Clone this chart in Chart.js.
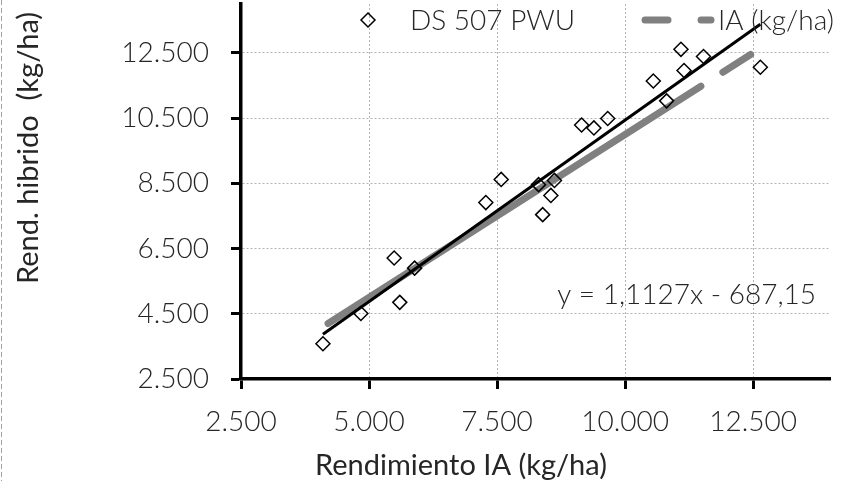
<!DOCTYPE html>
<html>
<head>
<meta charset="utf-8">
<script src="https://cdn.jsdelivr.net/npm/chart.js@4.4.0/dist/chart.umd.min.js"></script>
<style>
  html, body { margin: 0; padding: 0; background: #fff; }
  #wrap { width: 844px; height: 481px; position: relative; }
</style>
</head>
<body>
<div id="wrap"><canvas id="yieldChart"></canvas></div>
<script>
// Rendimiento IA (x) vs rendimiento del hibrido DS 507 PWU (y), kg/ha
const iaYield = [4100, 4840, 5490, 5600, 5890, 7280, 7580, 8390, 8310, 8550, 8620, 9150, 9390, 9660, 10550, 10810, 11090, 11150, 11530, 12640];
const hybridYield = [3580, 4510, 6210, 4850, 5900, 7910, 8620, 7540, 8460, 8130, 8590, 10290, 10200, 10490, 11640, 11030, 12610, 11960, 12390, 12060];
// IA reference line (y = x) endpoints
const iaLineX = [4200, 12450];
// linear trend shown on the chart
const trendSlope = 1.1127;
const trendIntercept = -687.15;
const trendLabel = 'y = 1,1127x - 687,15';
const xTicks = [2500, 5000, 7500, 10000, 12500];
const yTicks = [2500, 4500, 6500, 8500, 10500, 12500];
const seriesNames = ['DS 507 PWU', 'IA (kg/ha)'];
const xTitle = 'Rendimiento IA (kg/ha)';
const yTitle = 'Rend. hibrido  (kg/ha)';

const textColor = '#262626';
const labelFont = '300 28px Lato';
const titleFont = '29px Lato';

function fmt(v) {
  return String(v).replace(/\B(?=(\d{3})+(?!\d))/g, '.');
}

const points = iaYield.map((x, i) => ({ x: x, y: hybridYield[i] }));
const xMin = Math.min(...iaYield), xMax = Math.max(...iaYield);
const trendPoints = [xMin, xMax].map(x => ({ x: x, y: trendSlope * x + trendIntercept }));
const iaPoints = iaLineX.map(x => ({ x: x, y: x }));

// legend, axis titles, equation and frame drawn over the canvas
const decorations = {
  id: 'decorations',
  afterDraw(chart) {
    const ctx = chart.ctx;
    const h = chart.height;
    ctx.save();
    // dashed frame edge at the left
    ctx.strokeStyle = '#a0a0a0';
    ctx.lineWidth = 1;
    ctx.setLineDash([5, 3]);
    ctx.beginPath();
    ctx.moveTo(1.5, 0);
    ctx.lineTo(1.5, h);
    ctx.stroke();
    ctx.setLineDash([]);

    // legend
    const sc = chart.data.datasets[1];
    ctx.fillStyle = 'rgba(0,0,0,0)';
    ctx.strokeStyle = sc.borderColor;
    ctx.lineWidth = sc.borderWidth;
    Chart.helpers.drawPoint(ctx, {
      pointStyle: sc.pointStyle, radius: sc.pointRadius, rotation: 0,
      borderWidth: sc.borderWidth
    }, 368, 20);
    const ia = chart.data.datasets[2];
    ctx.strokeStyle = ia.borderColor;
    ctx.lineWidth = ia.borderWidth;
    ctx.lineCap = 'round';
    ctx.setLineDash([23, 33]);
    ctx.beginPath();
    ctx.moveTo(645, 20);
    ctx.lineTo(711, 20);
    ctx.stroke();
    ctx.setLineDash([]);

    ctx.fillStyle = textColor;
    ctx.font = labelFont;
    ctx.textBaseline = 'middle';
    ctx.textAlign = 'left';
    ctx.fillText(seriesNames[0], 410, 21);
    ctx.fillText(seriesNames[1], 718, 21);

    // trend equation
    ctx.textAlign = 'right';
    ctx.fillText(trendLabel, 816, 295);

    // axis titles
    ctx.font = titleFont;
    ctx.textAlign = 'center';
    ctx.fillText(xTitle, 461, 466);
    ctx.translate(29, 148);
    ctx.rotate(-Math.PI / 2);
    ctx.fillText(yTitle, 0, 0);
    ctx.restore();
  }
};

const gridOpts = {
  color: '#b4b4b4',
  lineWidth: 1,
  tickColor: '#000',
  tickWidth: 3,
  tickLength: 10,
  tickBorderDash: []
};
const borderOpts = { color: '#000', width: 3.5, dash: [2, 2] };

new Chart(document.getElementById('yieldChart'), {
  type: 'scatter',
  data: {
    datasets: [{
      label: 'trend',
      data: trendPoints,
      showLine: true,
      borderColor: '#000',
      borderWidth: 3,
      pointRadius: 0,
      order: 0
    }, {
      label: seriesNames[0],
      data: points,
      pointStyle: 'rectRot',
      pointRadius: 7,
      borderColor: '#000',
      borderWidth: 1.5,
      backgroundColor: 'rgba(0,0,0,0)',
      order: 1
    }, {
      label: seriesNames[1],
      data: iaPoints,
      showLine: true,
      borderColor: '#808080',
      borderWidth: 7,
      borderCapStyle: 'round',
      borderDash: [442, 26],
      pointRadius: 0,
      order: 2
    }]
  },
  options: {
    responsive: true,
    maintainAspectRatio: false,
    animation: false,
    events: [],
    layout: { autoPadding: false, padding: { left: 0, right: 14, top: 4, bottom: 0 } },
    plugins: { legend: { display: false }, tooltip: { enabled: false } },
    scales: {
      x: {
        type: 'linear',
        min: 2500,
        max: 14000,
        afterBuildTicks: s => { s.ticks = xTicks.map(v => ({ value: v })); },
        afterFit: s => { s.height = 102; s.paddingLeft = 0; s.paddingRight = 0; },
        ticks: { callback: v => fmt(v), color: textColor, font: { family: 'Lato', size: 28, weight: '300' }, padding: 16, maxRotation: 0 },
        grid: gridOpts,
        border: borderOpts
      },
      y: {
        type: 'linear',
        min: 2500,
        max: 14000,
        afterBuildTicks: s => { s.ticks = yTicks.map(v => ({ value: v })); },
        afterFit: s => { s.width = 241; s.paddingTop = 0; s.paddingBottom = 0; },
        ticks: { callback: v => fmt(v), color: textColor, font: { family: 'Lato', size: 28, weight: '300' }, padding: 22 },
        grid: gridOpts,
        border: borderOpts
      }
    }
  },
  plugins: [decorations]
});
</script>
</body>
</html>
